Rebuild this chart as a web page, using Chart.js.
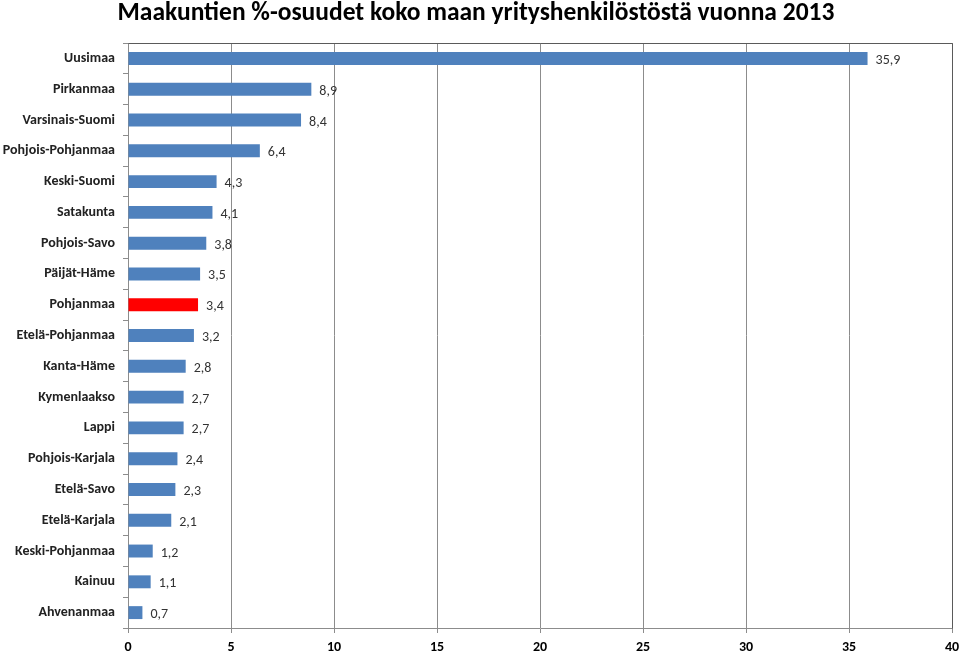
<!DOCTYPE html>
<html>
<head>
<meta charset="utf-8">
<script src="https://cdn.jsdelivr.net/npm/chart.js@4"></script>
<style>
  html, body { margin: 0; padding: 0; background: #fff; }
  #wrap { width: 960px; height: 652px; }
</style>
</head>
<body>
<div id="wrap"><canvas id="grafico"></canvas></div>
<script>
// Maakunnat ja niiden osuudet (%)
const maakunnat = [
    'Uusimaa', 'Pirkanmaa', 'Varsinais-Suomi', 'Pohjois-Pohjanmaa', 'Keski-Suomi',
    'Satakunta', 'Pohjois-Savo', 'Päijät-Häme', 'Pohjanmaa', 'Etelä-Pohjanmaa',
    'Kanta-Häme', 'Kymenlaakso', 'Lappi', 'Pohjois-Karjala', 'Etelä-Savo',
    'Etelä-Karjala', 'Keski-Pohjanmaa', 'Kainuu', 'Ahvenanmaa'
];
const osuudet = [35.9, 8.9, 8.4, 6.4, 4.3, 4.1, 3.8, 3.5, 3.4, 3.2, 2.8, 2.7, 2.7, 2.4, 2.3, 2.1, 1.2, 1.1, 0.7];
const korostettu = 'Pohjanmaa';
const xTicks = [0, 5, 10, 15, 20, 25, 30, 35, 40];

const fontti = "Calibri, Carlito, 'Open Sans', 'Liberation Sans', sans-serif";

// arvot pylväiden perään + kehys
const arvotPlugin = {
    id: 'arvot',
    afterDatasetsDraw(chart) {
        const ctx = chart.ctx;
        const meta = chart.getDatasetMeta(0);
        ctx.save();
        ctx.font = '14px ' + fontti;
        ctx.fillStyle = '#333';
        ctx.textBaseline = 'middle';
        ctx.textAlign = 'left';
        meta.data.forEach(function (bar, i) {
            ctx.fillText(osuudet[i].toFixed(1).replace('.', ','), bar.x + 8, bar.y + 2);
        });
        const a = chart.chartArea;
        ctx.strokeStyle = '#5a5a5a';
        ctx.lineWidth = 1;
        ctx.beginPath();
        ctx.moveTo(Math.round(a.left) + 0.5, Math.round(a.top) + 0.5);
        ctx.lineTo(Math.round(a.right) + 0.5, Math.round(a.top) + 0.5);
        ctx.lineTo(Math.round(a.right) + 0.5, Math.round(a.bottom) + 0.5);
        ctx.stroke();
        ctx.restore();
    }
};

const dados = {
    labels: maakunnat,
    datasets: [{
        data: osuudet,
        backgroundColor: maakunnat.map(m => m === korostettu ? '#ff0000' : '#4f81bd'),
        borderWidth: 0,
        barPercentage: 0.42,
        categoryPercentage: 1
    }]
};

const config = {
    type: 'bar',
    data: dados,
    plugins: [arvotPlugin],
    options: {
        indexAxis: 'y',
        responsive: true,
        maintainAspectRatio: false,
        animation: false,
        layout: { padding: { left: 0, right: 8, top: 0, bottom: 0 } },
        scales: {
            x: {
                min: 0,
                max: 40,
                afterBuildTicks: function (axis) {
                    axis.ticks = xTicks.map(v => ({ value: v }));
                },
                afterFit: function (axis) {
                    axis.height = 24;
                    axis.paddingLeft = 0;
                    axis.paddingRight = 0;
                },
                grid: {
                    color: '#8c8c8c',
                    tickLength: 5,
                    tickColor: '#8c8c8c'
                },
                border: { display: true, color: '#8c8c8c' },
                ticks: {
                    color: '#000',
                    padding: 6,
                    maxRotation: 0,
                    font: { family: fontti, size: 14, weight: 'bold' }
                }
            },
            y: {
                afterFit: function (axis) { axis.width = 128; },
                grid: {
                    offset: true,
                    drawOnChartArea: false,
                    tickLength: 5,
                    tickColor: '#8c8c8c'
                },
                border: { display: true, color: '#8c8c8c' },
                ticks: {
                    color: '#222',
                    padding: 8,
                    font: { family: fontti, size: 14, weight: 'bold' }
                }
            }
        },
        plugins: {
            legend: { display: false },
            tooltip: { enabled: false },
            title: {
                display: true,
                text: 'Maakuntien %-osuudet koko maan yrityshenkilöstöstä vuonna 2013',
                color: '#000',
                font: { family: fontti, size: 25.5, weight: 'bold', lineHeight: 1.1 },
                padding: { top: 0, bottom: 15 }
            }
        }
    }
};

new Chart(document.getElementById('grafico'), config);
</script>
</body>
</html>
